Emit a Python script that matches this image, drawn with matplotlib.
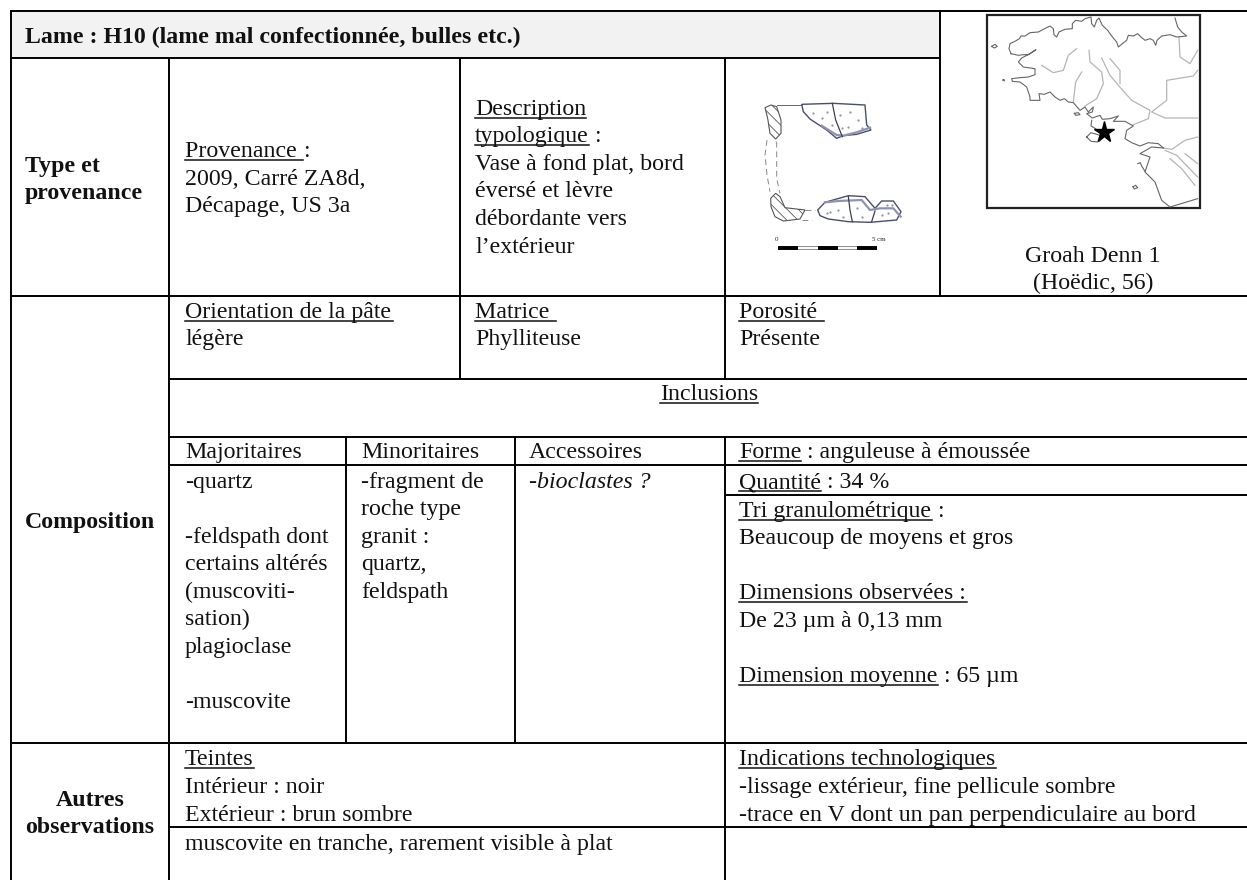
import matplotlib
matplotlib.use("Agg")
import matplotlib.pyplot as plt
from matplotlib.patches import Polygon, Rectangle

W, H = 1247, 880
FS = 17.2
plt.rcParams['font.family'] = ['Liberation Serif', 'DejaVu Sans']
plt.rcParams['hatch.linewidth'] = 0.6

# table text: (x, baseline y, underlined part, plain part)
header = "Lame : H10 (lame mal confectionnée, bulles etc.)"
row_titles = [(25, 172, "Type et"), (25, 199, "provenance"), (25, 528, "Composition")]
row_titles_center = [(90, 806, "Autres"), (90, 833, "observations")]
cells = [
    (185, 157, "Provenance ", ":"),
    (185, 185, "", "2009, Carré ZA8d,"),
    (185, 212, "", "Décapage, US 3a"),
    (475, 115, "Description", ""),
    (475, 142, "typologique", " :"),
    (475, 170, "", "Vase à fond plat, bord"),
    (475, 197, "", "éversé et lèvre"),
    (475, 225, "", "débordante vers"),
    (475, 253, "", "l’extérieur"),
    (185, 318, "Orientation de la pâte", ""),
    (185, 345, "", "légère"),
    (475, 318, "Matrice ", ""),
    (475, 345, "", "Phylliteuse"),
    (739, 318, "Porosité ", ""),
    (739, 345, "", "Présente"),
    (185, 458, "", "Majoritaires"),
    (361, 458, "", "Minoritaires"),
    (529, 458, "", "Accessoires"),
    (739, 458, "Forme", " : anguleuse à émoussée"),
    (185, 488, "", "-quartz"),
    (185, 543, "", "-feldspath dont"),
    (185, 570, "", "certains altérés"),
    (185, 598, "", "(muscoviti-"),
    (185, 625, "", "sation)"),
    (185, 653, "", "plagioclase"),
    (185, 708, "", "-muscovite"),
    (361, 488, "", "-fragment de"),
    (361, 515, "", "roche type"),
    (361, 543, "", "granit :"),
    (361, 570, "", "quartz,"),
    (361, 598, "", "feldspath"),
    (739, 488, "Quantité", " : 34 %"),
    (739, 517, "Tri granulométrique", " :"),
    (739, 544, "", "Beaucoup de moyens et gros"),
    (739, 599, "Dimensions observées :", ""),
    (739, 627, "", "De 23 µm à 0,13 mm"),
    (739, 682, "Dimension moyenne", " : 65 µm"),
    (185, 765, "Teintes", ""),
    (185, 793, "", "Intérieur : noir"),
    (185, 821, "", "Extérieur : brun sombre"),
    (185, 850, "", "muscovite en tranche, rarement visible à plat"),
    (739, 765, "Indications technologiques", ""),
    (739, 793, "", "-lissage extérieur, fine pellicule sombre"),
    (739, 821, "", "-trace en V dont un pan perpendiculaire au bord"),
]

# table rules: horizontal (y, x0, x1), vertical (x, y0, y1)
h_rules = [(11, 11, W), (58, 11, 940), (296, 11, W), (379, 169, W), (437, 169, W),
           (465, 169, W), (495, 725, W), (743, 11, W), (827, 169, W)]
v_rules = [(11, 11, 880), (169, 58, 880), (460, 58, 379), (725, 58, 379), (940, 11, 296),
           (346, 437, 743), (515, 437, 743), (725, 437, 880)]

# map sketch, in pixels of the crop
coast_north = [(20, 103), (30, 97), (37, 103), (28, 108), (20, 103)]
coast_main = [(78, 125), (72, 110), (75, 95), (90, 88), (103, 80), (108, 72), (120, 72), (135, 62),
              (160, 60), (175, 52), (195, 42), (205, 50), (207, 68), (215, 75), (222, 60), (240, 52),
              (262, 50), (262, 35), (272, 25), (290, 28), (300, 20), (318, 15), (320, 35), (328, 45),
              (335, 25), (342, 18), (352, 40), (368, 55), (380, 72), (395, 90), (400, 105), (412, 95),
              (425, 85), (430, 70), (445, 72), (458, 65), (468, 75), (480, 85), (495, 80), (505, 85),
              (512, 100), (516, 85), (530, 72), (555, 68), (575, 75), (605, 72), (590, 60), (578, 45),
              (570, 18)]
coast_b = [(78, 125), (100, 130), (115, 128), (130, 128), (153, 113), (135, 125), (110, 138),
           (100, 150), (115, 165), (150, 170), (150, 188), (130, 195), (105, 197), (80, 200),
           (82, 208), (105, 210), (125, 225), (135, 255), (135, 265), (165, 265), (162, 245),
           (178, 247), (195, 240), (210, 255), (225, 265), (238, 260), (250, 270), (265, 272),
           (285, 295), (300, 285), (310, 300), (325, 285), (322, 300), (305, 305), (322, 318),
           (345, 310), (352, 322), (375, 320), (400, 312), (385, 328), (420, 328), (445, 342),
           (425, 355), (420, 380), (440, 392), (465, 402), (490, 392), (520, 395), (535, 408)]
coast_c = [(535, 408), (500, 405), (465, 425), (495, 435), (480, 480), (510, 510), (530, 565),
           (555, 585), (638, 560)]
islands = [[(268, 304), (280, 302), (285, 308), (272, 310), (268, 304)],
           [(444, 524), (452, 520), (458, 527), (448, 531), (444, 524)],
           [(458, 455), (466, 452), (470, 462), (480, 478)],
           [(320, 325), (318, 342), (332, 350)],
           [(54, 204), (58, 203), (58, 207), (54, 204)],
           [(305, 375), (318, 362), (345, 370), (338, 390), (318, 388), (305, 375)]]
rivers = [[(275, 110), (250, 130), (235, 175), (205, 182), (170, 160)],
          [(290, 180), (272, 210), (265, 270)],
          [(312, 115), (315, 150), (350, 180), (355, 215), (335, 260), (300, 282)],
          [(350, 138), (375, 190), (400, 220), (440, 265), (495, 295), (490, 320), (445, 338)],
          [(375, 140), (405, 175), (405, 215)],
          [(638, 175), (625, 192), (545, 205), (545, 265), (500, 300), (540, 318), (638, 318)],
          [(582, 75), (585, 135), (615, 155), (638, 115)],
          [(638, 375), (600, 385), (560, 412), (535, 408)],
          [(540, 415), (575, 430), (638, 495)],
          [(600, 425), (638, 455)],
          [(555, 440), (590, 470), (630, 520)]]
star_xy = (356, 360)

# potsherd sketch, in pixels of the crop
rim_section = [(30, 38), (48, 30), (65, 35), (78, 75), (78, 115), (62, 132), (45, 115), (38, 70)]
base_section = [(47, 310), (62, 295), (75, 305), (90, 338), (150, 345), (135, 372), (85, 378), (60, 365), (48, 335)]
rim_sherd = [(140, 28), (235, 25), (330, 30), (335, 90), (348, 105), (305, 118), (265, 122),
             (245, 130), (215, 105), (165, 72), (145, 50)]
rim_edge = [(200, 92), (245, 120), (265, 122), (305, 112), (345, 98)]
rim_break = [(232, 25), (242, 75), (262, 125)]
base_sherd = [(188, 345), (210, 322), (280, 302), (330, 305), (360, 340), (380, 318), (415, 318),
              (438, 350), (425, 375), (345, 382), (280, 380), (220, 372), (195, 362)]
base_edge = [(210, 322), (250, 318), (320, 315), (345, 345), (375, 340), (415, 340), (437, 365)]
base_break = [(280, 305), (285, 345), (292, 380)]
base_break2 = [(350, 380), (360, 348)]
dashes_pot = [[(36, 135), (30, 180), (36, 240), (45, 290)], [(65, 140), (65, 200), (65, 250), (75, 295)],
              [(150, 344), (180, 344)], [(140, 375), (170, 375)]]
top_rule = [(65, 29), (140, 29)]
stipple = [(175, 55), (200, 70), (215, 50), (255, 60), (285, 50), (310, 75), (280, 95), (320, 100),
           (230, 90), (260, 100), (225, 350), (250, 345), (265, 365), (305, 340), (320, 365), (215, 355),
           (380, 360), (400, 355), (410, 330), (395, 330)]
scale_ticks = [70, 130, 188, 248, 306, 366]


def m(pts):
    return [(985 + x / 3, 12 + y / 3) for x, y in pts]


def p(pts):
    return [(755 + x / 3, 95 + y / 3) for x, y in pts]


def line(ax, pts, **kw):
    ax.plot([a for a, b in pts], [b for a, b in pts], solid_joinstyle='round', **kw)


def put(ax, rend, x, y, under, rest, **kw):
    xx = x
    if under:
        ax.text(xx, y, under, fontsize=FS, va='baseline', color='#111111', **kw)
        # trailing blank counts in the underline, so measure it with a stand-in
        w = ax.text(0, 0, under.replace(' ', 'i'), fontsize=FS, alpha=0).get_window_extent(rend).width
        ax.plot([xx, xx + w], [y + 3, y + 3], color='#111111', lw=1.1)
        xx += w
    if rest:
        ax.text(xx, y, rest, fontsize=FS, va='baseline', color='#111111', **kw)


fig = plt.figure(figsize=(W / 100, H / 100), dpi=100)
ax = fig.add_axes([0, 0, 1, 1])
ax.set_xlim(0, W)
ax.set_ylim(H, 0)
ax.axis('off')
rend = fig.canvas.get_renderer()

ax.add_patch(Rectangle((11, 11), 929, 47, color='#f2f2f2', lw=0))

for y, x0, x1 in h_rules:
    ax.plot([x0, x1], [y, y], color='black', lw=1.4, solid_capstyle='projecting')
for x, y0, y1 in v_rules:
    ax.plot([x, x], [y0, y1], color='black', lw=1.4, solid_capstyle='projecting')

ax.text(25, 43, header, fontsize=FS, fontweight='bold', va='baseline', color='#111111')
for x, y, s in row_titles:
    ax.text(x, y, s, fontsize=FS, fontweight='bold', va='baseline', color='#111111')
for x, y, s in row_titles_center:
    ax.text(x, y, s, fontsize=FS, fontweight='bold', va='baseline', ha='center', color='#111111')
for x, y, u, r in cells:
    put(ax, rend, x, y, u, r)
put(ax, rend, 529, 488, "", "-bioclastes ?", style='italic')

t = ax.text(709, 400, "Inclusions", fontsize=FS, va='baseline', ha='center', color='#111111')
tw = t.get_window_extent(rend).width
ax.plot([709 - tw / 2, 709 + tw / 2], [403, 403], color='#111111', lw=1.1)

ax.text(1093, 262, "Groah Denn 1", fontsize=FS, va='baseline', ha='center', color='#111111')
ax.text(1093, 289, "(Hoëdic, 56)", fontsize=FS, va='baseline', ha='center', color='#111111')

# map
ax.add_patch(Rectangle((987, 15), 213, 193, fill=False, ec='#222222', lw=1.6))
for r in rivers:
    line(ax, m(r), color='#b5b5b5', lw=0.9)
for c in [coast_north, coast_main, coast_b, coast_c] + islands:
    line(ax, m(c), color='#666666', lw=0.8)
sx, sy = m([star_xy])[0]
ax.plot([sx], [sy], marker='*', ms=15.5, color='black', mec='black', ls='none')

# sherds
for poly, hat in [(rim_section, '\\\\\\'), (base_section, '\\\\\\')]:
    ax.add_patch(Polygon(p(poly), fill=False, ec='#555555', lw=0.8, hatch=hat))
for poly in [rim_sherd, base_sherd]:
    ax.add_patch(Polygon(p(poly), fc='white', ec='#4a4e68', lw=1.0))
for l in [rim_edge, base_edge]:
    line(ax, p(l), color='#8f93ad', lw=1.6)
for l in [rim_break, base_break, base_break2]:
    line(ax, p(l), color='#3c3f55', lw=0.9)
for d in dashes_pot:
    line(ax, p(d), color='#888888', lw=0.7, ls=(0, (6, 4)))
line(ax, p(top_rule), color='#666666', lw=0.7)
pts = p(stipple)
ax.plot([a for a, b in pts], [b for a, b in pts], ls='none', marker='.', ms=1.2, color='#8a8fa5')

ticks = p([(v, 458) for v in scale_ticks])
ax.plot([ticks[0][0], ticks[-1][0]], [ticks[0][1]] * 2, color='#777777', lw=2.6, solid_capstyle='butt')
ax.plot([ticks[0][0], ticks[-1][0]], [ticks[0][1]] * 2, color='white', lw=1.4, solid_capstyle='butt')
for a, b in zip(ticks[0::2], ticks[1::2]):
    ax.plot([a[0], b[0]], [a[1], b[1]], color='black', lw=2.8, solid_capstyle='butt')
ax.text(*p([(65, 438)])[0], "0", fontsize=5, ha='center', va='baseline', color='#222222')
ax.text(*p([(372, 438)])[0], "5 cm", fontsize=5, ha='center', va='baseline', color='#222222')

fig.savefig("out.png", dpi=100)
